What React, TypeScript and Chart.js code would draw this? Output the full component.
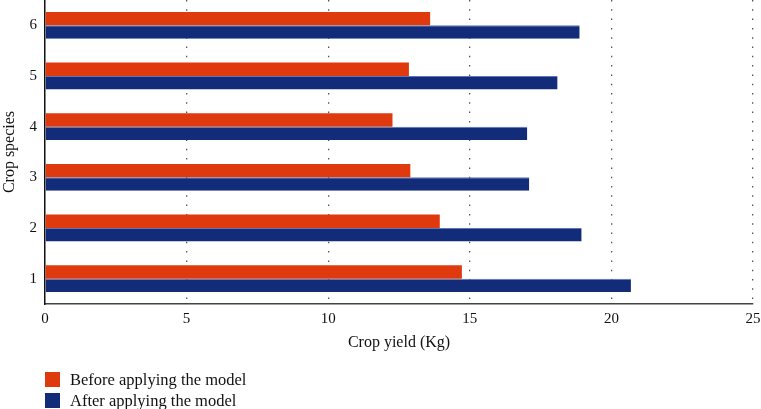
import React, { useEffect, useRef } from "react";
import { Chart, registerables } from "chart.js";

Chart.register(...registerables);

// Categories listed top-to-bottom as drawn
const categories: string[] = ["6", "5", "4", "3", "2", "1"];
const beforeValues: number[] = [13.6, 12.85, 12.27, 12.9, 13.94, 14.72];
const afterValues: number[] = [18.88, 18.1, 17.03, 17.1, 18.95, 20.69];
const seriesLabels: string[] = ["Before applying the model", "After applying the model"];
const seriesColors: string[] = ["#de3a0e", "#132c7a"];
const xTicks: number[] = [0, 5, 10, 15, 20, 25];

const FONT = "'Liberation Serif', 'Times New Roman', serif";

export default function App() {
  const ref = useRef<HTMLCanvasElement | null>(null);

  useEffect(() => {
    if (!ref.current) return;
    const chart = new Chart(ref.current, {
      type: "bar",
      data: {
        labels: categories,
        datasets: [
          {
            label: seriesLabels[0],
            data: beforeValues,
            backgroundColor: seriesColors[0],
            borderWidth: 0,
            categoryPercentage: 0.53,
            barPercentage: 1,
          },
          {
            label: seriesLabels[1],
            data: afterValues,
            backgroundColor: seriesColors[1],
            borderColor: "#5d74b6",
            borderWidth: { top: 1, right: 0, bottom: 0, left: 0 },
            categoryPercentage: 0.53,
            barPercentage: 1,
          },
        ],
      },
      options: {
        indexAxis: "y",
        responsive: false,
        animation: false,
        layout: { padding: { top: 0, left: 0, right: 0, bottom: 54 } },
        plugins: {
          legend: { display: false },
          tooltip: { enabled: false },
        },
        scales: {
          x: {
            type: "linear",
            min: xTicks[0],
            max: xTicks[xTicks.length - 1],
            afterBuildTicks: (scale: any) => {
              scale.ticks = xTicks.map((v) => ({ value: v }));
            },
            afterFit: (scale: any) => {
              scale.height = 51;
              scale.paddingLeft = 0;
              scale.paddingRight = 8;
              scale.paddingTop = 0;
              scale.paddingBottom = 0;
            },
            grid: {
              display: true,
              drawTicks: false,
              color: (ctx: any) => (ctx.tick && ctx.tick.value === 0 ? "rgba(0,0,0,0)" : "#555"),
              lineWidth: 1.3,
            },
            border: { display: true, color: "#444", width: 1.5, dash: [1.5, 7.8] as any },
            ticks: {
              color: "#111",
              padding: 6,
              font: { family: FONT, size: 15 },
            },
            title: {
              display: true,
              text: "Crop yield (Kg)",
              color: "#111",
              font: { family: FONT, size: 16 },
              padding: { top: 0, bottom: 3 },
            },
          },
          y: {
            type: "category",
            afterFit: (scale: any) => {
              scale.width = 45;
              scale.paddingTop = 0;
              scale.paddingBottom = 0;
              scale.paddingLeft = 0;
              scale.paddingRight = 0;
            },
            grid: { display: false, drawTicks: false },
            border: { display: true, color: "#111", width: 1.5 },
            ticks: {
              color: "#111",
              padding: 8,
              font: { family: FONT, size: 15 },
            },
            title: {
              display: true,
              text: "Crop species",
              color: "#111",
              font: { family: FONT, size: 16 },
              padding: { top: 0, bottom: 0 },
            },
          },
        },
      },
    } as any);
    return () => chart.destroy();
  }, []);

  return (
    <div style={{ position: "fixed", left: 0, top: 0, width: 761, height: 409, background: "#fff" }}>
      <canvas ref={ref} width={761} height={409} style={{ display: "block" }} />
      <div style={{ position: "absolute", left: 45, top: 372, fontFamily: FONT, fontSize: 16.5, color: "#111" }}>
        {seriesLabels.map((lab, i) => (
          <div key={lab} style={{ display: "flex", alignItems: "center", height: 15, marginBottom: 6 }}>
            <div style={{ width: 15, height: 15, background: seriesColors[i], marginRight: 10 }} />
            <span style={{ lineHeight: "15px" }}>{lab}</span>
          </div>
        ))}
      </div>
    </div>
  );
}
